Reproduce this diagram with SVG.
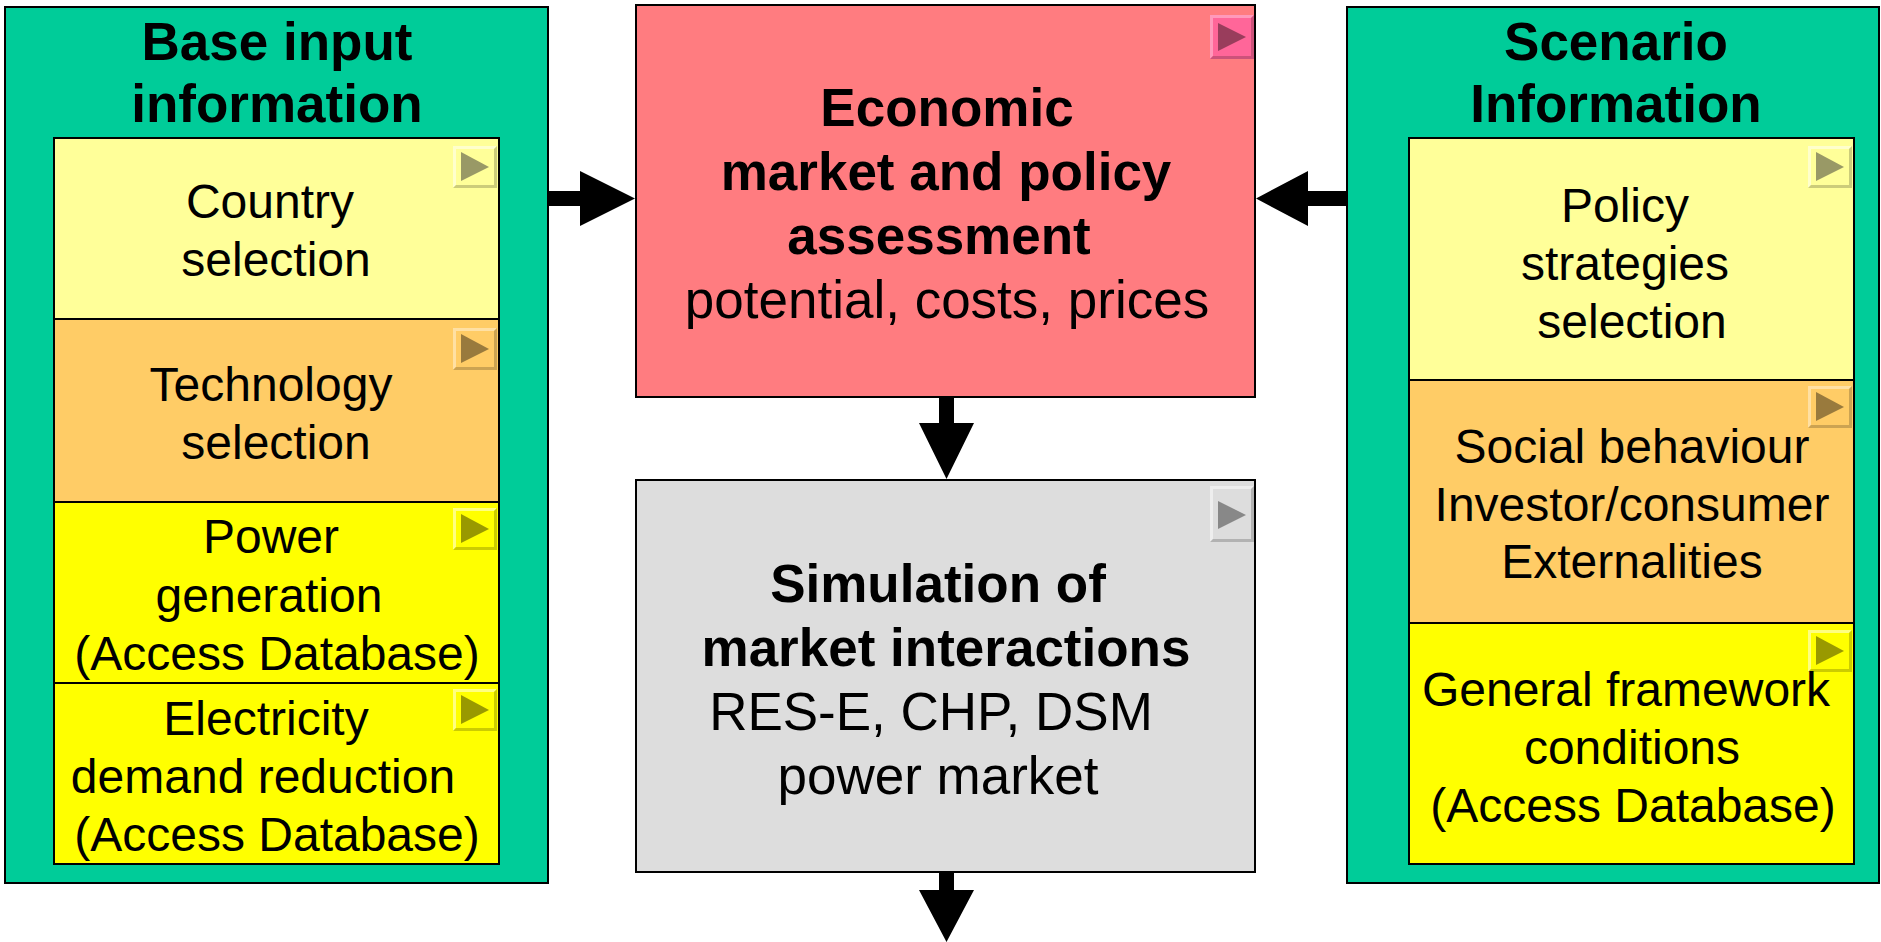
<svg xmlns="http://www.w3.org/2000/svg" width="1881" height="942" viewBox="0 0 1881 942">
  <style>
    .panel { fill: #00CC99; stroke: #000; stroke-width: 2; }
    .box { stroke: #000; stroke-width: 2; }
    .pale { fill: #FFFF99; }
    .amber { fill: #FFCC66; }
    .lemon { fill: #FFFF00; }
    .rose { fill: #FF7C80; }
    .grey { fill: #DDDDDD; }
    text { font-family: "Liberation Sans", Arial, sans-serif; fill: #000; text-anchor: middle; }
    .title { font-size: 53px; font-weight: bold; }
    .body { font-size: 48px; }
    .big { font-size: 53px; }
    .bold { font-weight: bold; }
    .arrow { fill: #000; }
    /* bevelled "play" buttons */
    .pale-btn .face { fill: #FFFF99; } .pale-btn .hi { fill: #FFFFCC; } .pale-btn .lo { fill: #CCCC7A; } .pale-btn .tri { fill: #999966; }
    .amber-btn .face { fill: #FFCC66; } .amber-btn .hi { fill: #FFE0A3; } .amber-btn .lo { fill: #CCA352; } .amber-btn .tri { fill: #997A3D; }
    .lemon-btn .face { fill: #FFFF00; } .lemon-btn .hi { fill: #FFFF80; } .lemon-btn .lo { fill: #CCCC00; } .lemon-btn .tri { fill: #999900; }
    .rose-btn .face { fill: #FF6699; } .rose-btn .hi { fill: #FF99BB; } .rose-btn .lo { fill: #CC527A; } .rose-btn .tri { fill: #993D5C; }
    .grey-btn .face { fill: #DDDDDD; } .grey-btn .hi { fill: #EEEEEE; } .grey-btn .lo { fill: #B2B2B2; } .grey-btn .tri { fill: #888888; }
  </style>

  <rect x="0" y="0" width="1881" height="942" fill="#fff"/>

  <!-- left panel: base input information -->
  <g id="base-input">
    <rect class="panel" x="5" y="7" width="543" height="876"/>
    <text class="title" x="277" y="60">Base input</text>
    <text class="title" x="277" y="122">information</text>
  </g>
  <g id="country-selection">
    <rect class="box pale" x="54" y="138" width="445" height="181"/>
    <g class="pale-btn" transform="translate(453,146)">
      <rect class="face" width="44" height="42"/>
      <polygon class="hi" points="0,0 44,0 41,3 3,3 3,39 0,42"/>
      <polygon class="lo" points="44,0 44,42 0,42 3,39 41,39 41,3"/>
      <polygon class="tri" points="8,6 36,21 8,35"/>
    </g>
    <text class="body" x="270" y="218">Country</text>
    <text class="body" x="276" y="276">selection</text>
  </g>
  <g id="technology-selection">
    <rect class="box amber" x="54" y="319" width="445" height="183"/>
    <g class="amber-btn" transform="translate(453,328)">
      <rect class="face" width="44" height="42"/>
      <polygon class="hi" points="0,0 44,0 41,3 3,3 3,39 0,42"/>
      <polygon class="lo" points="44,0 44,42 0,42 3,39 41,39 41,3"/>
      <polygon class="tri" points="8,6 36,21 8,35"/>
    </g>
    <text class="body" x="271" y="401">Technology</text>
    <text class="body" x="276" y="459">selection</text>
  </g>
  <g id="power-generation">
    <rect class="box lemon" x="54" y="502" width="445" height="181"/>
    <g class="lemon-btn" transform="translate(453,508)">
      <rect class="face" width="44" height="42"/>
      <polygon class="hi" points="0,0 44,0 41,3 3,3 3,39 0,42"/>
      <polygon class="lo" points="44,0 44,42 0,42 3,39 41,39 41,3"/>
      <polygon class="tri" points="8,6 36,21 8,35"/>
    </g>
    <text class="body" x="271" y="553">Power</text>
    <text class="body" x="269" y="612">generation</text>
    <text class="body" x="277" y="670">(Access Database)</text>
  </g>
  <g id="demand-reduction">
    <rect class="box lemon" x="54" y="683" width="445" height="181"/>
    <g class="lemon-btn" transform="translate(453,689)">
      <rect class="face" width="44" height="42"/>
      <polygon class="hi" points="0,0 44,0 41,3 3,3 3,39 0,42"/>
      <polygon class="lo" points="44,0 44,42 0,42 3,39 41,39 41,3"/>
      <polygon class="tri" points="8,6 36,21 8,35"/>
    </g>
    <text class="body" x="266" y="735">Electricity</text>
    <text class="body" x="263" y="793">demand reduction</text>
    <text class="body" x="277" y="851">(Access Database)</text>
  </g>

  <!-- centre: assessment and simulation -->
  <g id="assessment">
    <rect class="box rose" x="636" y="5" width="619" height="392"/>
    <g class="rose-btn" transform="translate(1210,15)">
      <rect class="face" width="44" height="44"/>
      <polygon class="hi" points="0,0 44,0 41,3 3,3 3,41 0,44"/>
      <polygon class="lo" points="44,0 44,44 0,44 3,41 41,41 41,3"/>
      <polygon class="tri" points="8,8 36,22 8,36"/>
    </g>
    <text class="big bold" x="947" y="126">Economic</text>
    <text class="big bold" x="946" y="190">market and policy</text>
    <text class="big bold" x="939" y="254">assessment</text>
    <text class="big" x="947" y="318">potential, costs, prices</text>
  </g>
  <g id="simulation">
    <rect class="box grey" x="636" y="480" width="619" height="392"/>
    <g class="grey-btn" transform="translate(1210,486)">
      <rect class="face" width="44" height="56"/>
      <polygon class="hi" points="0,0 44,0 41,3 3,3 3,53 0,56"/>
      <polygon class="lo" points="44,0 44,56 0,56 3,53 41,53 41,3"/>
      <polygon class="tri" points="8,15 36,29 8,43"/>
    </g>
    <text class="big bold" x="938" y="602">Simulation of</text>
    <text class="big bold" x="946" y="666">market interactions</text>
    <text class="big" x="931" y="730">RES-E, CHP, DSM</text>
    <text class="big" x="938" y="794">power market</text>
  </g>

  <!-- right panel: scenario information -->
  <g id="scenario">
    <rect class="panel" x="1347" y="7" width="532" height="876"/>
    <text class="title" x="1616" y="60">Scenario</text>
    <text class="title" x="1616" y="122">Information</text>
  </g>
  <g id="policy-strategies">
    <rect class="box pale" x="1409" y="138" width="445" height="242"/>
    <g class="pale-btn" transform="translate(1808,146)">
      <rect class="face" width="44" height="42"/>
      <polygon class="hi" points="0,0 44,0 41,3 3,3 3,39 0,42"/>
      <polygon class="lo" points="44,0 44,42 0,42 3,39 41,39 41,3"/>
      <polygon class="tri" points="8,6 36,21 8,35"/>
    </g>
    <text class="body" x="1625" y="222">Policy</text>
    <text class="body" x="1625" y="280">strategies</text>
    <text class="body" x="1632" y="338">selection</text>
  </g>
  <g id="social-behaviour">
    <rect class="box amber" x="1409" y="380" width="445" height="243"/>
    <g class="amber-btn" transform="translate(1808,386)">
      <rect class="face" width="44" height="42"/>
      <polygon class="hi" points="0,0 44,0 41,3 3,3 3,39 0,42"/>
      <polygon class="lo" points="44,0 44,42 0,42 3,39 41,39 41,3"/>
      <polygon class="tri" points="8,6 36,21 8,35"/>
    </g>
    <text class="body" x="1632" y="463">Social behaviour</text>
    <text class="body" x="1632" y="521">Investor/consumer</text>
    <text class="body" x="1632" y="578">Externalities</text>
  </g>
  <g id="framework-conditions">
    <rect class="box lemon" x="1409" y="623" width="445" height="241"/>
    <g class="lemon-btn" transform="translate(1808,630)">
      <rect class="face" width="44" height="42"/>
      <polygon class="hi" points="0,0 44,0 41,3 3,3 3,39 0,42"/>
      <polygon class="lo" points="44,0 44,42 0,42 3,39 41,39 41,3"/>
      <polygon class="tri" points="8,6 36,21 8,35"/>
    </g>
    <text class="body" x="1626" y="706">General framework</text>
    <text class="body" x="1632" y="764">conditions</text>
    <text class="body" x="1633" y="822">(Access Database)</text>
  </g>

  <!-- block arrows -->
  <g id="connectors">
    <polygon class="arrow" points="549,191 580,191 580,171 635,198.5 580,226 580,206 549,206"/>
    <polygon class="arrow" points="1346,191 1308,191 1308,171 1256,198.5 1308,226 1308,206 1346,206"/>
    <polygon class="arrow" points="939,398 954,398 954,423 974,423 946.5,479 919,423 939,423"/>
    <polygon class="arrow" points="939,873 954,873 954,890 974,890 946.5,942 919,890 939,890"/>
  </g>
</svg>
